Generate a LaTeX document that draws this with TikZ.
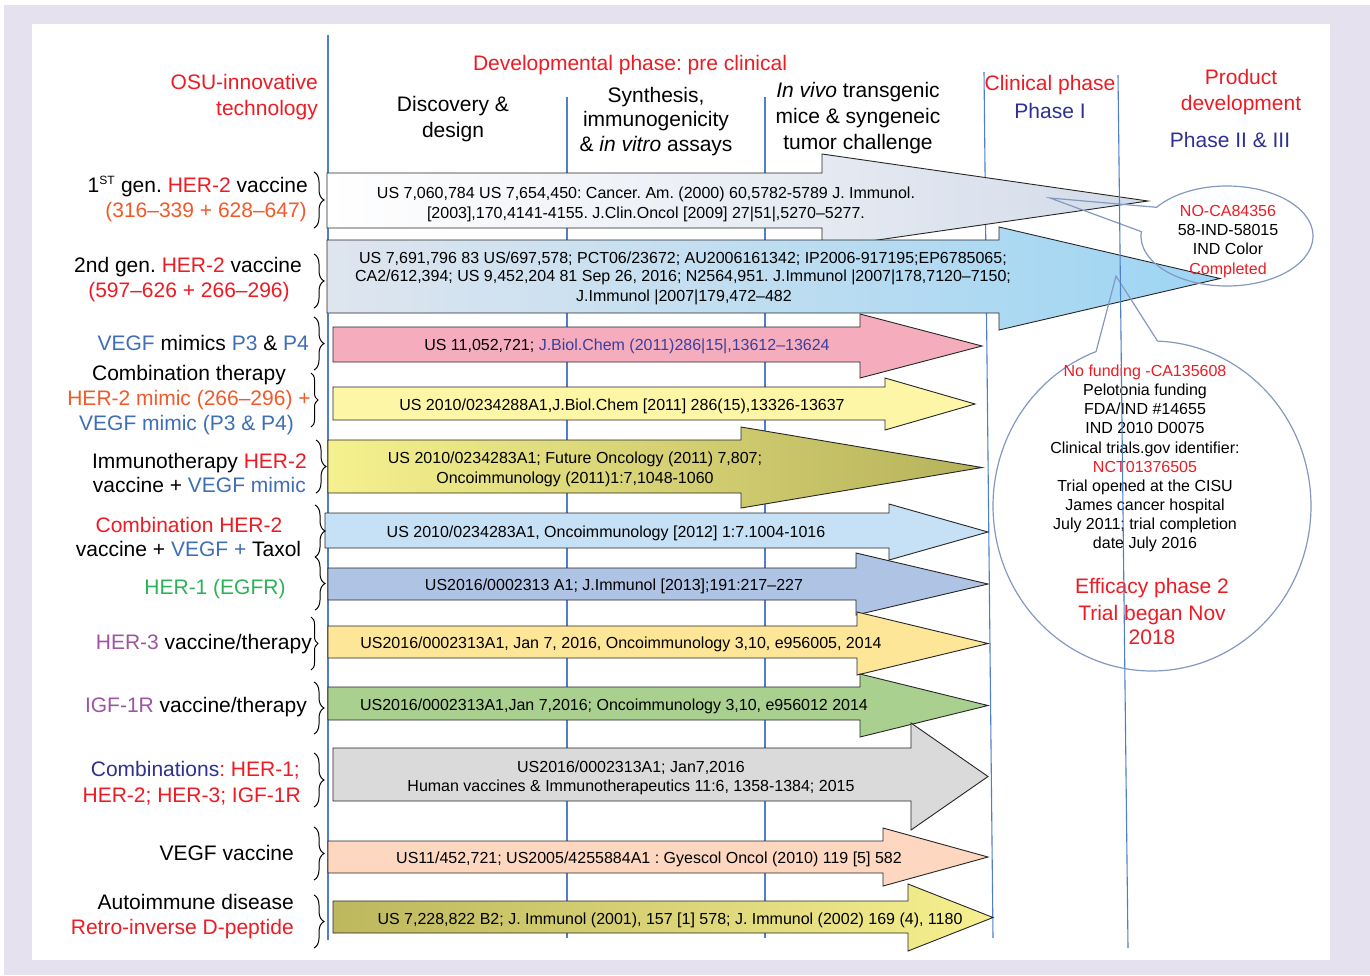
\documentclass[tikz,border=0pt]{standalone}
\usepackage{fontspec}
\setmainfont{Liberation Sans}
\usetikzlibrary{decorations.pathreplacing}
\frenchspacing
\definecolor{lav}{HTML}{E6E1EF}
\definecolor{myred}{HTML}{ED1C24}
\definecolor{myorange}{HTML}{F15A29}
\definecolor{myblue}{HTML}{3E6EB6}
\definecolor{mydblue}{HTML}{2E3192}
\definecolor{mygreen}{HTML}{2CB25A}
\definecolor{mypurple}{HTML}{9B55A3}
\definecolor{refblue}{HTML}{3B3E9E}
\definecolor{vline}{HTML}{4F7FCB}
\definecolor{callc}{HTML}{8498C2}
\definecolor{outl}{HTML}{262626}
\definecolor{aOneR}{HTML}{D3DBE9}
\definecolor{aTwoL}{HTML}{DEE5EF}
\definecolor{aTwoR}{HTML}{9DD5F3}
\definecolor{aPink}{HTML}{F5ADBE}
\definecolor{aLYel}{HTML}{FDF6A6}
\definecolor{aYel}{HTML}{F6F18F}
\definecolor{aOlive}{HTML}{B6B25A}
\definecolor{aLBlue}{HTML}{C6E1F5}
\definecolor{aGBlue}{HTML}{AFC4E4}
\definecolor{aGold}{HTML}{FDE697}
\definecolor{aGreen}{HTML}{A9D08E}
\definecolor{aGray}{HTML}{DADADA}
\definecolor{aPeach}{HTML}{FDD7BF}
\definecolor{aOliveL}{HTML}{BDB75D}
\definecolor{aYelR}{HTML}{F6F090}
\newcommand\hdarrow[8]{\path[#1] (#2,#3) -- (#5,#3) -- (#5,#6) -- (#8,{(#6+#7)/2}) -- (#5,#7) -- (#5,#4) -- (#2,#4) -- cycle;}
\begin{document}
\begin{tikzpicture}[x=1pt,y=-1pt,
  arr/.style={draw=outl, line width=0.9pt, line join=miter},
  hd/.style={font=\fontsize{21}{25}\selectfont, inner sep=0pt},
  rf/.style={font=\fontsize{16}{19}\selectfont, inner sep=0pt},
  brc/.style={decorate, decoration={brace, amplitude=10pt}, line width=1pt, draw=black},
  brcs/.style={decorate, decoration={brace, amplitude=7pt}, line width=1pt, draw=black},
  vl/.style={draw=vline, line width=1.1pt},
  callout/.style={draw=callc, line width=1.2pt}]
\useasboundingbox (0,0) rectangle (1370,975);
\fill[white] (0,0) rectangle (1370,975);
\fill[lav] (4,5) rectangle (1370,975);
\fill[white] (32,24) rectangle (1330,960);

% phase separators
\draw[vl] (328,35) -- (328,940);
\draw[vl] (567,97) -- (567,938);
\draw[vl] (765,97) -- (765,938);
\draw[vl] (984,72) -- (993,938);

% arrows
\hdarrow{arr, left color=white, right color=aOneR}{327}{173}{228}{822}{154}{248}{1148}
\hdarrow{arr, left color=aTwoL, right color=aTwoR}{327}{240}{313}{999}{227}{330}{1220}
\hdarrow{arr, fill=aPink}{333}{327}{362}{860}{314}{378}{982}
\hdarrow{arr, fill=aLYel}{333}{387}{420}{885}{378}{430}{975}
\hdarrow{arr, left color=aYel, right color=aOlive}{328}{440}{493}{741}{427}{508}{982}
\hdarrow{arr, fill=aLBlue}{325}{513}{548}{889}{504}{560}{988}
\hdarrow{arr, fill=aGBlue}{328}{568}{600}{856}{553}{615}{988}
\hdarrow{arr, fill=aGold}{328}{626}{658}{857}{612}{675}{988}
\hdarrow{arr, fill=aGreen}{328}{687}{720}{860}{674}{737}{988}
\hdarrow{arr, fill=aGray}{333}{748}{801}{911}{723}{830}{988}
\hdarrow{arr, fill=aPeach}{328}{841}{873}{883}{828}{886}{988}
\hdarrow{arr, left color=aOliveL, right color=aYelR}{333}{901}{933}{908}{884}{951}{993}

% arrow texts
\node[rf, anchor=base] (t1a) at (646,198) {US 7,060,784 US 7,654,450: Cancer. Am. (2000) 60,5782-5789 J. Immunol.};
\node[rf, anchor=base] (t1b) at (646,218) {[2003],170,4141-4155. J.Clin.Oncol [2009] 27|51|,5270–5277.};
\node[rf, anchor=base] (t2a) at (683,263) {US 7,691,796 83 US/697,578; PCT06/23672; AU2006161342; IP2006-917195;EP6785065;};
\node[rf, anchor=base] (t2b) at (683,281) {CA2/612,394; US 9,452,204 81 Sep 26, 2016; N2564,951. J.Immunol |2007|178,7120–7150;};
\node[rf, anchor=base] (t2c) at (684,301) {J.Immunol |2007|179,472–482};
\node[rf, anchor=base] (t3) at (627,350) {US 11,052,721; \textcolor{refblue}{J.Biol.Chem (2011)286|15|,13612–13624}};
\node[rf, anchor=base] (t4) at (622,410) {US 2010/0234288A1,J.Biol.Chem [2011] 286(15),13326-13637};
\node[rf, anchor=base] (t5a) at (575,463) {US 2010/0234283A1; Future Oncology (2011) 7,807;};
\node[rf, anchor=base] (t5b) at (575,483) {Oncoimmunology (2011)1:7,1048-1060};
\node[rf, anchor=base] (t6) at (606,537) {US 2010/0234283A1, Oncoimmunology [2012] 1:7.1004-1016};
\node[rf, anchor=base] (t7) at (614,590) {US2016/0002313 A1; J.Immunol [2013];191:217–227};
\node[rf, anchor=base] (t8) at (621,648) {US2016/0002313A1, Jan 7, 2016, Oncoimmunology 3,10, e956005, 2014};
\node[rf, anchor=base] (t9) at (614,710) {US2016/0002313A1,Jan 7,2016; Oncoimmunology 3,10, e956012 2014};
\node[rf, anchor=base] (t10a) at (631,772) {US2016/0002313A1; Jan7,2016};
\node[rf, anchor=base] (t10b) at (631,791) {Human vaccines \& Immunotherapeutics 11:6, 1358-1384; 2015};
\node[rf, anchor=base] (t11) at (649,863) {US11/452,721; US2005/4255884A1 : Gyescol Oncol (2010) 119 [5] 582};
\node[rf, anchor=base] (t12) at (670,924) {US 7,228,822 B2; J. Immunol (2001), 157 [1] 578; J. Immunol (2002) 169 (4), 1180};

% braces
\draw[brc] (314,172) -- (314,228);
\draw[brc] (314,254) -- (314,308);
\draw[brc] (314,317) -- (314,370);
\draw[brcs] (311,373) -- (311,427);
\draw[brc] (316,440) -- (316,493);
\draw[brc] (315,505) -- (315,557);
\draw[brc] (315,557) -- (315,610);
\draw[brcs] (311,617) -- (311,670);
\draw[brc] (314,682) -- (314,734);
\draw[brc] (314,753) -- (314,807);
\draw[brc] (314,827) -- (314,880);
\draw[brc] (314,895) -- (314,948);

% headers
\node[hd, anchor=base east, text=myred] (h1a) at (318,89.5) {OSU-innovative};
\node[hd, anchor=base east, text=myred] (h1b) at (318,115.5) {technology};
\node[hd, anchor=base, text=myred] (h2) at (630,70.5) {Developmental phase: pre clinical};
\node[hd, anchor=base] (h3a) at (453,111.5) {Discovery \&};
\node[hd, anchor=base] (h3b) at (453,137.5) {design};
\node[hd, anchor=base] (h4a) at (656,102) {Synthesis,};
\node[hd, anchor=base] (h4b) at (656,126.5) {immunogenicity};
\node[hd, anchor=base] (h4c) at (656,151.5) {\& \textit{in vitro} assays};
\node[hd, anchor=base] (h5a) at (858,97.5) {\textit{In vivo} transgenic};
\node[hd, anchor=base] (h5b) at (858,123.5) {mice \& syngeneic};
\node[hd, anchor=base] (h5c) at (858,149.5) {tumor challenge};
\node[hd, anchor=base, text=myred] (h6a) at (1050,90.5) {Clinical phase};
\node[hd, anchor=base, text=mydblue] (h6b) at (1050,118) {Phase I};
\node[hd, anchor=base, text=myred] (h7a) at (1241,84.5) {Product};
\node[hd, anchor=base, text=myred] (h7b) at (1241,110.5) {development};
\node[hd, anchor=base, text=mydblue] (h7c) at (1230,147.5) {Phase II \& III};

% left labels
\node[hd, anchor=base east] (l1a) at (308,192.5) {1\textsuperscript{\fontsize{12}{12}\selectfont ST} gen. \textcolor{myred}{HER-2} vaccine};
\node[hd, anchor=base east, text=myorange] (l1b) at (307,217.5) {(316–339 + 628–647)};
\node[hd, anchor=base] (l2a) at (188,272.5) {2nd gen. \textcolor{myred}{HER-2} vaccine};
\node[hd, anchor=base, text=myred] (l2b) at (189,297.5) {(597–626 + 266–296)};
\node[hd, anchor=base east] (l3) at (309,350.5) {\textcolor{myblue}{VEGF} mimics \textcolor{myblue}{P3} \& \textcolor{myblue}{P4}};
\node[hd, anchor=base] (l4a) at (189,380.5) {Combination therapy};
\node[hd, anchor=base, text=myorange] (l4b) at (189,405.5) {HER-2 mimic (266–296) +};
\node[hd, anchor=base, text=myblue] (l4c) at (186.5,430.5) {VEGF mimic (P3 \& P4)};
\node[hd, anchor=base east] (l5a) at (307,468.5) {Immunotherapy \textcolor{myred}{HER-2}};
\node[hd, anchor=base east] (l5b) at (306,492.5) {vaccine + \textcolor{myblue}{VEGF mimic}};
\node[hd, anchor=base, text=myred] (l6a) at (189,532.5) {Combination HER-2};
\node[hd, anchor=base] (l6b) at (188.5,556.5) {vaccine + \textcolor{myblue}{VEGF +} Taxol};
\node[hd, anchor=base, text=mygreen] (l7) at (215,594.5) {HER-1 (EGFR)};
\node[hd, anchor=base east] (l8) at (312,649.5) {\textcolor{mypurple}{HER-3} vaccine/therapy};
\node[hd, anchor=base east] (l9) at (307,712.5) {\textcolor{mypurple}{IGF-1R} vaccine/therapy};
\node[hd, anchor=base east, text=myred] (l10a) at (300,776.5) {\textcolor{mydblue}{Combinations}: HER-1;};
\node[hd, anchor=base east, text=myred] (l10b) at (301,802.5) {HER-2; HER-3; IGF-1R};
\node[hd, anchor=base east] (l11) at (294,860.5) {VEGF vaccine};
\node[hd, anchor=base east] (l12a) at (294,909.5) {Autoimmune disease};
\node[hd, anchor=base east, text=myred] (l12b) at (294,934.5) {Retro-inverse D-peptide};

% callout 1
\draw[callout] (1050,198) -- plot[domain=215:545, samples=90, smooth] ({1227+86*cos(\x)},{236+50*sin(\x)}) -- cycle;
\node[rf, anchor=base, text=myred] (c1a) at (1228,216) {NO-CA84356};
\node[rf, anchor=base] (c1b) at (1228,235) {58-IND-58015};
\node[rf, anchor=base] (c1c) at (1228,254) {IND Color};
\node[rf, anchor=base, text=myred] (c1d) at (1228,274) {Completed};

% callout 2
\draw[callout] (1116,276) -- plot[domain=272:609.4, samples=150, smooth] ({1152+159*cos(\x)},{506+165*sin(\x)}) -- cycle;
\node[rf, anchor=base, text=myred] (c2a) at (1145,376) {No funding -CA135608};
\node[rf, anchor=base] (c2b) at (1145,395) {Pelotonia funding};
\node[rf, anchor=base] (c2c) at (1145,414) {FDA/IND \#14655};
\node[rf, anchor=base] (c2d) at (1145,433) {IND 2010 D0075};
\node[rf, anchor=base] (c2e) at (1145,453) {Clinical trials.gov identifier:};
\node[rf, anchor=base, text=myred] (c2f) at (1145,472) {NCT01376505};
\node[rf, anchor=base] (c2g) at (1145,491) {Trial opened at the CISU};
\node[rf, anchor=base] (c2h) at (1145,510) {James cancer hospital};
\node[rf, anchor=base] (c2i) at (1145,529) {July 2011; trial completion};
\node[rf, anchor=base] (c2j) at (1145,548) {date July 2016};
\node[hd, anchor=base, text=myred] (c2k) at (1152,593.5) {Efficacy phase 2};
\node[hd, anchor=base, text=myred] (c2l) at (1152,620.5) {Trial began Nov};
\node[hd, anchor=base, text=myred] (c2m) at (1152,644.5) {2018};

\draw[vl] (1118,75) -- (1128,948);
\end{tikzpicture}
\end{document}
